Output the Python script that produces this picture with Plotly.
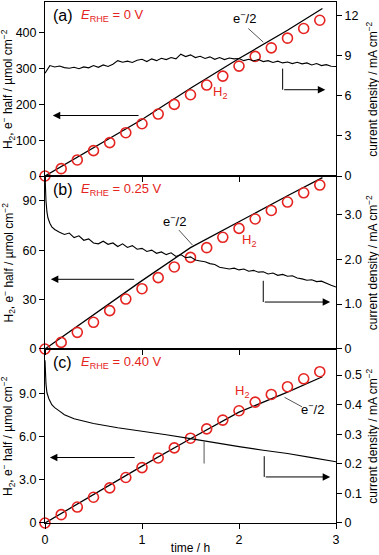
import plotly.graph_objects as go

RED = "#e52421"
FONT = "Liberation Sans, Arial, sans-serif"

# H2 sampling (every 10 min)
h2_time = [0, 0.167, 0.333, 0.5, 0.667, 0.833, 1.0, 1.167, 1.333, 1.5,
           1.667, 1.833, 2.0, 2.167, 2.333, 2.5, 2.667, 2.833]

# (a) E_RHE = 0 V
h2_a = [0, 20.5, 44.8, 70.9, 93.2, 121, 146, 173, 200, 227, 254, 279, 307,
        334, 358, 385, 412, 435]
half_time = [0, 0.5, 1.0, 1.5, 2.0, 2.5, 2.86]
half_a = [0, 80, 158, 245, 328, 407, 468]
cur_time_a = [0, 0.05, 0.1, 0.15, 0.2, 0.25, 0.3, 0.35, 0.4, 0.45, 0.5, 0.55,
              0.6, 0.65, 0.7, 0.75, 0.8, 0.85, 0.9, 0.95, 1.0, 1.05, 1.1, 1.15,
              1.2, 1.25, 1.3, 1.35, 1.4, 1.45, 1.5, 1.55, 1.6, 1.65, 1.7, 1.75,
              1.8, 1.85, 1.9, 1.95, 2.0, 2.05, 2.1, 2.15, 2.2, 2.25, 2.3, 2.35,
              2.4, 2.45, 2.5, 2.55, 2.6, 2.65, 2.7, 2.75, 2.8, 2.85, 2.9, 2.95, 3.0]
cur_a = [7.68, 8.25, 8.15, 8.22, 8.10, 8.05, 8.12, 8.02, 8.15, 8.08, 8.25, 8.12,
         8.30, 8.18, 8.35, 8.62, 8.50, 8.58, 8.48, 8.65, 8.72, 8.55, 8.75, 8.62,
         8.80, 8.70, 8.85, 8.75, 9.10, 8.92, 9.05, 8.85, 8.95, 8.78, 8.90, 8.72,
         8.85, 8.70, 8.82, 8.75, 8.78, 8.62, 8.72, 8.60, 8.70, 8.55, 8.62, 8.48,
         8.58, 8.45, 8.52, 8.40, 8.50, 8.38, 8.45, 8.30, 8.40, 8.25, 8.32, 8.20, 8.18]

# (b) E_RHE = 0.25 V
h2_b = [0, 4.0, 10.1, 16.2, 23.3, 30.3, 36.6, 43.3, 49.8, 55.6, 61.5, 67.8,
        73.2, 78.9, 84.1, 89.2, 94.8, 99.5]
half_b = [0, 21, 41.5, 61.5, 77.5, 93, 104]
cur_time_b = [0, 0.005, 0.01, 0.02, 0.03, 0.05, 0.07, 0.1, 0.13] + cur_time_a[3:]
cur_b = [3.9, 3.5, 3.3, 3.05, 2.92, 2.80, 2.72, 2.66, 2.62,
         2.60, 2.55, 2.58, 2.48, 2.52, 2.42, 2.45, 2.36, 2.34, 2.40, 2.33, 2.36,
         2.28, 2.34, 2.26, 2.30, 2.22, 2.24, 2.17, 2.20, 2.13, 2.16, 2.10, 2.14,
         2.06, 2.10, 2.03, 2.05, 1.98, 1.96, 1.94, 1.90, 1.88, 1.82, 1.80, 1.78,
         1.80, 1.76, 1.78, 1.73, 1.75, 1.71, 1.72, 1.67, 1.69, 1.64, 1.66, 1.62,
         1.63, 1.58, 1.56, 1.53, 1.54, 1.50, 1.51, 1.46, 1.42, 1.38]

# (c) E_RHE = 0.40 V
h2_c = [0, 0.58, 1.11, 1.79, 2.44, 3.16, 3.85, 4.52, 5.22, 5.89, 6.54, 7.15,
        7.80, 8.40, 8.93, 9.47, 10.02, 10.51]
half_c = [0, 2.0, 3.95, 5.85, 7.7, 9.1, 10.16]
cur_time_c = [0, 0.005, 0.01, 0.02, 0.04, 0.07, 0.1, 0.15, 0.2, 0.3, 0.4, 0.5,
              0.75, 1.0, 1.25, 1.5, 1.75, 2.0, 2.25, 2.5, 2.75, 3.0]
cur_c = [0.55, 0.50, 0.47, 0.44, 0.42, 0.40, 0.39, 0.378, 0.366, 0.352, 0.344,
         0.336, 0.322, 0.311, 0.298, 0.285, 0.271, 0.258, 0.246, 0.235, 0.221, 0.207]

# tick labels
left_ticks = [[0, 100, 200, 300, 400], [0, 30, 60, 90], [0, 3, 6, 9]]
left_text = [["0", "100", "200", "300", "400"], ["0", "30", "60", "90"],
             ["0", "3.0", "6.0", "9.0"]]
right_ticks = [[0, 3, 6, 9, 12], [0, 1, 2, 3], [0, 0.1, 0.2, 0.3, 0.4, 0.5]]
right_text = [["0", "3", "6", "9", "12"], ["0", "1.0", "2.0", "3.0"],
              ["0", "0.1", "0.2", "0.3", "0.4", "0.5"]]
left_range = [486, 105, 12.09]
right_range = [13.0, 3.85, 0.588]
labels = ["(a)", "(b)", "(c)"]
potentials = ["0 V", "0.25 V", "0.40 V"]

panels = [
    (h2_a, half_a, cur_time_a, cur_a),
    (h2_b, half_b, cur_time_b, cur_b),
    (h2_c, half_c, cur_time_c, cur_c),
]
domains = [[0.666, 1.0], [0.334, 0.666], [0.0, 0.334]]

fig = go.Figure()
layout = dict(
    width=379, height=555,
    margin=dict(l=45, r=43, t=2, b=32, autoexpand=False),
    paper_bgcolor="white", plot_bgcolor="white",
    showlegend=False,
    font=dict(family=FONT, size=12, color="black"),
)
annotations = []
shapes = []

axis_common = dict(showline=True, linecolor="black", linewidth=1, ticks="outside",
                   ticklen=5, tickwidth=1, tickcolor="black", showgrid=False,
                   zeroline=False, tickfont=dict(size=12.5), automargin=False)

for i, (h2, half, ct, cur) in enumerate(panels):
    xn = "x" if i == 0 else f"x{i + 1}"
    yl = "y" if i == 0 else f"y{2 * i + 1}"
    yr = f"y{2 * i + 2}"
    xk = "xaxis" if i == 0 else f"xaxis{i + 1}"
    ylk = "yaxis" if i == 0 else f"yaxis{2 * i + 1}"
    yrk = f"yaxis{2 * i + 2}"

    fig.add_trace(go.Scatter(x=ct, y=cur, mode="lines", xaxis=xn, yaxis=yr,
                             line=dict(color="black", width=1.1)))
    fig.add_trace(go.Scatter(x=half_time, y=half, mode="lines", xaxis=xn, yaxis=yl,
                             line=dict(color="black", width=1.3)))
    fig.add_trace(go.Scatter(x=h2_time, y=h2, mode="markers", xaxis=xn, yaxis=yl,
                             cliponaxis=False,
                             marker=dict(symbol="circle-open", size=10, color=RED,
                                         line=dict(width=1.6, color=RED))))

    layout[xk] = dict(axis_common, domain=[0, 1], range=[0, 3], anchor=yl,
                      tickvals=[0, 1, 2, 3], mirror=True,
                      showticklabels=(i == 2))
    layout[ylk] = dict(axis_common, domain=domains[i], range=[0, left_range[i]],
                       anchor=xn, tickvals=left_ticks[i], ticktext=left_text[i])
    layout[yrk] = dict(axis_common, domain=domains[i], range=[0, right_range[i]],
                       anchor=xn, overlaying=yl, side="right",
                       tickvals=right_ticks[i], ticktext=right_text[i])

    top = left_range[i]
    annotations.append(dict(xref=xn, yref=yl, x=0.065, y=top * 0.924, text=labels[i],
                            showarrow=False, xanchor="left", yanchor="middle",
                            font=dict(size=16)))
    annotations.append(dict(xref=xn, yref=yl, x=0.35, y=top * 0.924,
                            text=f"<i>E</i><sub>RHE</sub> = {potentials[i]}",
                            showarrow=False, xanchor="left", yanchor="middle",
                            font=dict(size=13, color=RED)))
    mid = (domains[i][0] + domains[i][1]) / 2
    annotations.append(dict(xref="paper", yref="paper", x=-0.127, y=mid,
                            text="H<sub>2</sub>, e<sup>−</sup> half / µmol cm<sup>−2</sup>",
                            textangle=-90, showarrow=False, xanchor="center",
                            yanchor="middle", font=dict(size=12)))
    annotations.append(dict(xref="paper", yref="paper", x=1.1227, y=mid,
                            text="current density / mA cm<sup>−2</sup>",
                            textangle=-90, showarrow=False, xanchor="center",
                            yanchor="middle", font=dict(size=12)))

layout["xaxis3"]["title"] = dict(text="time / h", standoff=2, font=dict(size=12))


def text(xr, yr, x, y, s, color="black"):
    annotations.append(dict(xref=xr, yref=yr, x=x, y=y, text=s, showarrow=False,
                            xanchor="center", yanchor="middle",
                            font=dict(size=13, color=color)))


def seg(xr, yr, x0, y0, x1, y1, color="#555555"):
    shapes.append(dict(type="line", xref=xr, yref=yr, x0=x0, y0=y0, x1=x1, y1=y1,
                       line=dict(color=color, width=1)))


def arrow(xr, yr, x_head, x_tail, y):
    annotations.append(dict(xref=xr, yref=yr, axref=xr, ayref=yr, x=x_head, y=y,
                            ax=x_tail, ay=y, text="", showarrow=True,
                            arrowhead=2, arrowsize=1.5, arrowwidth=1,
                            arrowcolor="black", standoff=0, startstandoff=0))


# (a)
text("x", "y", 2.06, 440, "e<sup>−</sup>/2")
seg("x", "y", 2.096, 412, 2.25, 374)
text("x", "y", 1.80, 234, "H<sub>2</sub>", RED)
arrow("x", "y", 0.08, 0.98, 169)
seg("x", "y", 2.45, 300, 2.45, 241, "black")
arrow("x", "y", 2.89, 2.45, 241)

# (b)
text("x2", "y3", 1.34, 77.7, "e<sup>−</sup>/2")
seg("x2", "y3", 1.38, 72.2, 1.52, 63.1)
text("x2", "y3", 2.10, 66.1, "H<sub>2</sub>", RED)
arrow("x2", "y3", 0.06, 0.935, 42.3)
seg("x2", "y3", 2.25, 41.4, 2.25, 28.5, "black")
arrow("x2", "y3", 2.94, 2.25, 28.5)

# (c)
text("x3", "y5", 2.03, 9.17, "H<sub>2</sub>", RED)
text("x3", "y5", 2.76, 7.91, "e<sup>−</sup>/2")
seg("x3", "y5", 2.47, 8.73, 2.65, 8.07)
seg("x3", "y5", 1.64, 5.64, 1.64, 4.13)
arrow("x3", "y5", 0.05, 0.94, 4.55)
seg("x3", "y5", 2.26, 4.64, 2.26, 3.2, "black")
arrow("x3", "y5", 2.94, 2.26, 3.2)

layout["annotations"] = annotations
layout["shapes"] = shapes
fig.update_layout(**layout)

# the page body has a default 8px margin; drop it so the figure fills the window
fig.write_html("out.html", config={"displayModeBar": False},
               post_script="document.body.style.margin='0';")
